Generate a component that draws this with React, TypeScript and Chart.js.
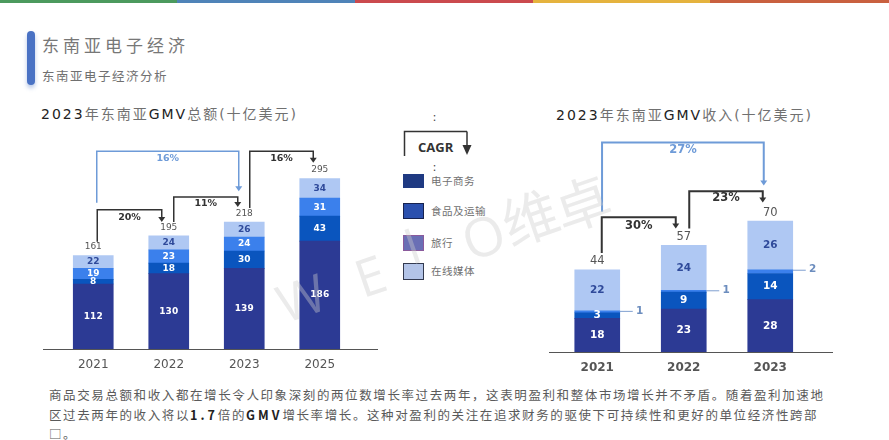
import { useEffect, useRef } from 'react';
import { Chart, registerables } from 'chart.js';

Chart.register(...registerables);

const seriesNames = ['电子商务', '食品及运输', '旅行', '在线媒体'];
const barColors = ['#2C3A94', '#0A55BE', '#3B80EC', '#AFC8F3'];
const labelColors = ['#FFFFFF', '#FFFFFF', '#FFFFFF', '#2F4A9A'];

const gmvYears = ['2021', '2022', '2023', '2025'];
const gmvCommerce = [112, 130, 139, 186];
const gmvFood = [8, 18, 30, 43];
const gmvTravel = [19, 23, 24, 31];
const gmvMedia = [22, 24, 26, 34];
const gmvTotals = [161, 195, 218, 295];

const revenueYears = ['2021', '2022', '2023'];
const revenueCommerce = [18, 23, 28];
const revenueFood = [3, 9, 14];
const revenueTravel = [1, 1, 2];
const revenueMedia = [22, 24, 26];
const revenueTotals = [44, 57, 70];

const BLACK = '#333333';
const BLUE = '#6E9BD8';

// CAGR brackets: categories they join, heights in axis units
type Bracket = {
  text: string;
  color: string;
  from: number;
  to: number;
  fromDx: number;
  toDx: number;
  bottom: number;
  top: number;
  tip: number;
  labelAt: number;
};

const gmvBrackets: Bracket[] = [
  { text: '16%', color: BLUE, from: 0, to: 2, fromDx: 3.5, toDx: -5.5, bottom: 252, top: 341, tip: 272, labelAt: 328 },
  { text: '20%', color: BLACK, from: 0, to: 1, fromDx: 4, toDx: -7, bottom: 185, top: 240, tip: 219, labelAt: 226 },
  { text: '11%', color: BLACK, from: 1, to: 2, fromDx: 5, toDx: -6.5, bottom: 219, top: 262, tip: 245, labelAt: 250 },
  { text: '16%', color: BLACK, from: 2, to: 3, fromDx: 5.5, toDx: -6.5, bottom: 243, top: 341, tip: 321, labelAt: 328 },
];

const revenueBrackets: Bracket[] = [
  { text: '27%', color: BLUE, from: 0, to: 2, fromDx: 4.8, toDx: -6.5, bottom: 75, top: 112, tip: 89, labelAt: 108 },
  { text: '30%', color: BLACK, from: 0, to: 1, fromDx: 4.5, toDx: -8, bottom: 53, top: 72, tip: 66, labelAt: 67.5 },
  { text: '23%', color: BLACK, from: 1, to: 2, fromDx: 5.5, toDx: -7.5, bottom: 66, top: 86, tip: 80, labelAt: 82.4 },
];

const FONT = '"DejaVu Sans", "Noto Sans CJK SC", sans-serif';
const CJK = '"Noto Sans CJK SC", "DejaVu Sans", sans-serif';

interface StackedProps {
  left: number;
  top: number;
  width: number;
  height: number;
  years: string[];
  values: number[][];
  totals: number[];
  brackets: Bracket[];
  yMax: number;
  padding: { left: number; right: number; top: number; bottom: number };
  axisExtra: [number, number];
  xHeight: number;
  tickPadding: number;
  tickFont: { size: number; weight: string };
  barWidth: number;
  labelSize: number;
  totalSize: number;
  percentSize: number;
  bracketWidth: number;
  sideLabelSeries?: number;
}

function StackedBars(props: StackedProps) {
  const canvasRef = useRef<HTMLCanvasElement>(null);

  useEffect(() => {
    if (!canvasRef.current) return;

    const annotate = {
      id: 'annotate',
      afterDatasetsDraw(chart: any) {
        const { ctx, chartArea, scales } = chart;
        const x = scales.x;
        const y = scales.y;
        ctx.save();

        // baseline runs past the outer categories
        ctx.strokeStyle = '#555555';
        ctx.lineWidth = 1;
        ctx.beginPath();
        ctx.moveTo(chartArea.left - props.axisExtra[0], chartArea.bottom + 0.5);
        ctx.lineTo(chartArea.right + props.axisExtra[1], chartArea.bottom + 0.5);
        ctx.stroke();

        ctx.textAlign = 'center';
        ctx.textBaseline = 'middle';

        // segment labels
        props.values.forEach((row, s) => {
          const meta = chart.getDatasetMeta(s);
          row.forEach((v, i) => {
            const bar = meta.data[i];
            if (s === props.sideLabelSeries) {
              const edge = bar.x + props.barWidth / 2;
              ctx.strokeStyle = '#7F9FD0';
              ctx.beginPath();
              ctx.moveTo(edge, bar.y + 0.5);
              ctx.lineTo(edge + 13, bar.y + 0.5);
              ctx.stroke();
              ctx.fillStyle = '#6C8DBE';
              ctx.font = `bold ${props.labelSize}px ${FONT}`;
              ctx.fillText(String(v), edge + 20, bar.y);
            } else {
              ctx.fillStyle = labelColors[s];
              ctx.font = `bold ${props.labelSize}px ${FONT}`;
              ctx.fillText(String(v), bar.x, (bar.y + bar.base) / 2);
            }
          });
        });

        // totals above the stacks
        const topMeta = chart.getDatasetMeta(props.values.length - 1);
        ctx.fillStyle = '#555555';
        ctx.font = `${props.totalSize}px ${FONT}`;
        props.totals.forEach((t, i) => {
          ctx.fillText(String(t), topMeta.data[i].x, topMeta.data[i].y - 8.5);
        });

        // CAGR brackets
        props.brackets.forEach((b) => {
          const x0 = x.getPixelForValue(b.from) + b.fromDx;
          const x1 = x.getPixelForValue(b.to) + b.toDx;
          const yTop = y.getPixelForValue(b.top);
          const yTip = y.getPixelForValue(b.tip);
          ctx.strokeStyle = b.color;
          ctx.fillStyle = b.color;
          ctx.lineWidth = props.bracketWidth;
          ctx.beginPath();
          ctx.moveTo(x0, y.getPixelForValue(b.bottom));
          ctx.lineTo(x0, yTop);
          ctx.lineTo(x1, yTop);
          ctx.lineTo(x1, yTip - 4);
          ctx.stroke();
          ctx.beginPath();
          ctx.moveTo(x1 - 3.5, yTip - 5);
          ctx.lineTo(x1 + 3.5, yTip - 5);
          ctx.lineTo(x1, yTip);
          ctx.closePath();
          ctx.fill();
          ctx.font = `bold ${props.percentSize}px ${FONT}`;
          ctx.fillText(b.text, (x0 + x1) / 2, y.getPixelForValue(b.labelAt));
        });

        ctx.restore();
      },
    };

    const chart = new Chart(canvasRef.current, {
      type: 'bar',
      data: {
        labels: props.years,
        datasets: props.values.map((row, s) => ({
          label: seriesNames[s],
          data: row,
          backgroundColor: barColors[s],
          barThickness: props.barWidth,
        })),
      },
      options: {
        responsive: false,
        animation: false,
        layout: { padding: props.padding },
        plugins: { legend: { display: false }, tooltip: { enabled: false } },
        scales: {
          x: {
            stacked: true,
            border: { display: false },
            grid: { display: false },
            ticks: {
              color: '#555555',
              padding: props.tickPadding,
              font: { family: FONT, size: props.tickFont.size, weight: props.tickFont.weight as any },
            },
            afterFit: (scale: any) => {
              scale.height = props.xHeight;
            },
          },
          y: { stacked: true, display: false, min: 0, max: props.yMax },
        },
      },
      plugins: [annotate],
    });

    return () => chart.destroy();
  }, []);

  return (
    <canvas
      ref={canvasRef}
      width={props.width}
      height={props.height}
      style={{ position: 'absolute', left: props.left, top: props.top }}
    />
  );
}

const abs = (left: number, top: number, extra: any = {}) => ({
  position: 'absolute' as const,
  left,
  top,
  whiteSpace: 'nowrap' as const,
  ...extra,
});

const stripes = [
  ['#4C9A5E', 0, 177],
  ['#4F83B8', 177, 178],
  ['#CB4A4E', 355, 178],
  ['#E5B33E', 533, 177],
  ['#C9603F', 710, 179],
] as const;

const legendRows = [
  { top: 174, h: 14, fill: '#1F3A82', border: '#1F3A82', textTop: 181 },
  { top: 203, h: 16, fill: '#2B50AE', border: '#17224F', textTop: 211 },
  { top: 235, h: 16, fill: '#6A6FB5', border: '#8A5A9C', textTop: 243 },
  { top: 263, h: 17, fill: '#B3C4E8', border: '#333A50', textTop: 271 },
];

const watermark = [
  { ch: 'W', x: 301, y: 297, size: 52 },
  { ch: 'E', x: 370, y: 275, size: 52 },
  { ch: 'I', x: 412, y: 245, size: 50 },
  { ch: 'O', x: 483, y: 235, size: 54 },
  { ch: '维', x: 530, y: 217, size: 56 },
  { ch: '卓', x: 582, y: 203, size: 56 },
];

function ChartTitle({ left, top, rest }: { left: number; top: number; rest: string }) {
  const dark = { color: '#222222', fontWeight: 500 };
  return (
    <div style={abs(left, top, { fontFamily: FONT, fontSize: 14, lineHeight: '18px', letterSpacing: 2, color: '#707070' })}>
      <span style={dark}>2023</span>年东南亚<span style={dark}>GMV</span>
      {rest}
    </div>
  );
}

export default function App() {
  const boldText = { color: '#222222', letterSpacing: 3 };
  const bodyText = { fontSize: 12.5, lineHeight: '18px', letterSpacing: 1.6, color: '#5A5A5A' };
  return (
    <div style={{ position: 'fixed', inset: 0, background: '#FFFFFF', overflow: 'hidden', fontFamily: CJK }}>
      {stripes.map(([c, x, w]) => (
        <div key={x} style={abs(x, 0, { width: w, height: 3, background: c })} />
      ))}

      <div style={abs(27, 31, { width: 8, height: 54, borderRadius: 4, background: '#4A72C4', boxShadow: '0 3px 4px rgba(74,114,196,0.4)' })} />
      <div style={abs(42, 33, { fontSize: 17, lineHeight: '24px', letterSpacing: 4, color: '#777777' })}>东南亚电子经济</div>
      <div style={abs(42, 67, { fontSize: 12.5, lineHeight: '18px', letterSpacing: 1.5, color: '#707070' })}>东南亚电子经济分析</div>

      <ChartTitle left={41} top={105} rest="总额(十亿美元)" />
      <ChartTitle left={556} top={106} rest="收入(十亿美元)" />

      <StackedBars
        left={30}
        top={130}
        width={360}
        height={245}
        years={gmvYears}
        values={[gmvCommerce, gmvFood, gmvTravel, gmvMedia]}
        totals={gmvTotals}
        brackets={gmvBrackets}
        yMax={350}
        padding={{ left: 25.5, right: 32.5, top: 16, bottom: 0 }}
        axisExtra={[12.5, 20.5]}
        xHeight={26}
        tickPadding={1}
        tickFont={{ size: 12, weight: 'normal' }}
        barWidth={40}
        labelSize={9}
        totalSize={9}
        percentSize={9.5}
        bracketWidth={1.5}
      />

      <StackedBars
        left={540}
        top={120}
        width={300}
        height={260}
        years={revenueYears}
        values={[revenueCommerce, revenueFood, revenueTravel, revenueMedia]}
        totals={revenueTotals}
        brackets={revenueBrackets}
        yMax={120}
        padding={{ left: 14, right: 26.5, top: 7.6, bottom: 0 }}
        axisExtra={[5, 19.5]}
        xHeight={28}
        tickPadding={1}
        tickFont={{ size: 12, weight: 'bold' }}
        barWidth={45}
        labelSize={10.5}
        totalSize={11.5}
        percentSize={11.5}
        bracketWidth={2}
        sideLabelSeries={2}
      />

      {/* legend */}
      <div style={abs(433, 111, { fontSize: 11, lineHeight: '10px', color: '#444444' })}>:</div>
      <svg width={80} height={34} style={abs(400, 127)}>
        <path d="M4.5 29 V4.5 H67" fill="none" stroke="#333333" strokeWidth={1.5} />
        <path d="M67 4.5 V20" fill="none" stroke="#333333" strokeWidth={1.5} />
        <path d="M62.5 18 H71.5 L67 28 Z" fill="#333333" />
      </svg>
      <div style={abs(418, 139, { fontFamily: '"Open Sans", sans-serif', fontWeight: 700, fontSize: 13, lineHeight: '16px', color: '#333333' })}>
        CAGR
      </div>
      <div style={abs(433, 161, { fontSize: 11, lineHeight: '10px', color: '#444444' })}>:</div>
      {legendRows.map((r, i) => (
        <div key={seriesNames[i]}>
          <div style={abs(403, r.top, { width: 21, height: r.h, boxSizing: 'border-box', background: r.fill, border: `1px solid ${r.border}` })} />
          <div style={abs(431, r.textTop - 8, { fontSize: 10.5, lineHeight: '16px', letterSpacing: 0.5, color: '#707070' })}>
            {seriesNames[i]}
          </div>
        </div>
      ))}

      {/* paragraph */}
      <div style={abs(49, 386, bodyText)}>
        商品交易总额和收入都在增长令人印象深刻的两位数增长率过去两年，这表明盈利和整体市场增长并不矛盾。随着盈利加速地
      </div>
      <div style={abs(49, 406, bodyText)}>
        区过去两年的收入将以<b style={boldText}>1.7</b>倍的<b style={boldText}>GMV</b>
        增长率增长。这种对盈利的关注在追求财务的驱使下可持续性和更好的单位经济性跨部
      </div>
      <div style={abs(49, 425, bodyText)}>□。</div>

      {/* watermark */}
      {watermark.map((w) => (
        <div
          key={w.ch}
          style={abs(w.x, w.y, {
            fontFamily: '"Open Sans", "Noto Sans CJK SC", sans-serif',
            fontSize: w.size,
            lineHeight: 1,
            color: 'rgba(205,205,205,0.4)',
            transform: 'translate(-50%, -50%) rotate(-19deg)',
            pointerEvents: 'none',
          })}
        >
          {w.ch}
        </div>
      ))}
    </div>
  );
}
